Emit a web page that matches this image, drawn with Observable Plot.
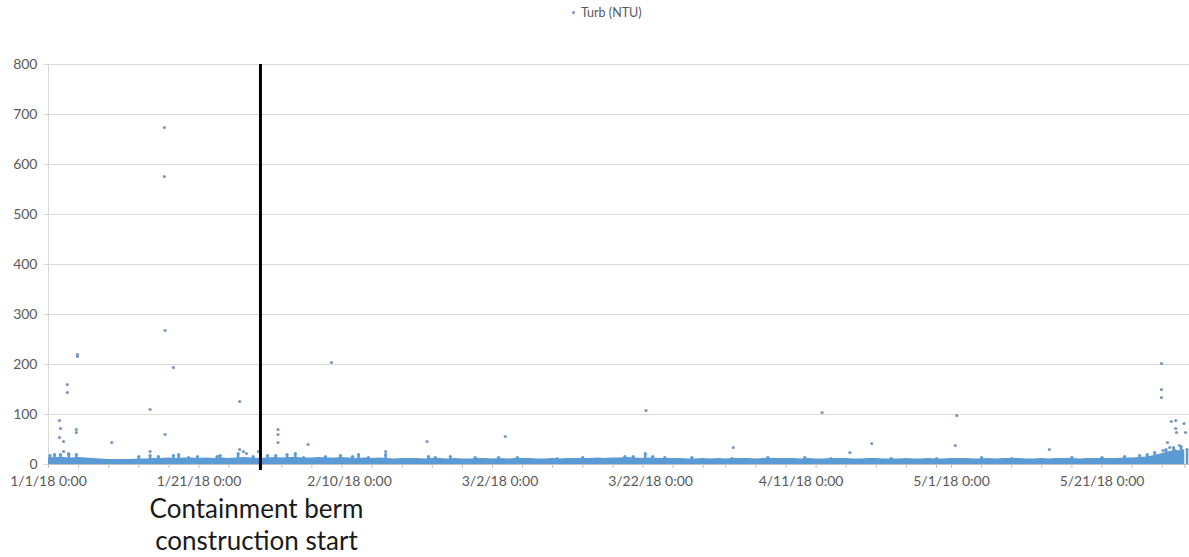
<!DOCTYPE html>
<html><head><meta charset="utf-8">
<script src="https://cdn.jsdelivr.net/npm/d3@7"></script>
<script src="https://cdn.jsdelivr.net/npm/@observablehq/plot@0.6"></script>
<style>
body{margin:0;background:#fff;font-family:Lato,"DejaVu Sans",sans-serif;}
#wrap{position:relative;width:1189px;height:557px;overflow:hidden;}
#legend{height:30px;position:relative;}
#legend .item{position:absolute;left:572px;top:5px;font-size:12.5px;color:#595959;display:flex;align-items:center;gap:6px;}
#legend .dot{width:3px;height:3px;border-radius:50%;background:#7896c0;display:inline-block;}
</style>
</head><body>
<div id="wrap">
<div id="legend"><div class="item"><span class="dot"></span><span>Turb (NTU)</span></div></div>
<div id="chart"></div>
</div>
<script>
// Day offsets from 1/1/18 0:00
const bandDay = d3.range(152);
// typical daily level of the dense band of readings (NTU)
const bandNTU = [
13,14,14,13,14,13,12,11,10,10,
10,10,11,11,12,12,13,12,13,13,
12,13,12,13,12,13,14,13,12,13,
14,13,14,14,13,13,14,13,13,14,
13,12,13,12,13,12,11,12,12,12,
11,12,12,11,12,11,11,12,12,11,
12,11,12,12,12,11,11,12,11,12,
12,12,12,13,12,13,13,14,13,12,
13,12,12,12,12,11,11,12,11,12,
11,12,12,12,11,12,12,12,12,12,
11,12,11,11,12,12,12,11,11,12,
12,11,11,11,12,11,11,12,11,11,
12,12,12,11,11,12,11,12,12,12,
11,11,12,11,12,12,12,11,12,12,
12,12,12,13,13,14,15,18,22,26,28,26
];
// small bumps just above the band
const bumpDay = [0.2,0.8,1.6,2.7,3.7,12,13.5,14.6,16.6,17.3,18.6,19.8,22.4,22.8,25.2,27.2,29.1,30.2,31.7,32.8,33.9,36.8,38.8,40.4,41.2,42.5,44.8,
50.5,51.4,53.4,56.7,59.8,62.3,67.6,71,76.6,77.7,79.3,80.3,81.9,85.5,90.8,95.6,100.5,104,112,118,124,128,136,140,143,145,146,147,148.5,149.5,150.5,151.3];
const bumpNTU = [18,20,20,20,20,16,18,16,18,20,14,16,16,18,22,16,18,18,20,22,14,16,18,16,20,14,20,
16,14,16,14,14,14,12,14,16,16,22,16,14,14,12,14,14,12,12,12,14,12,14,14,16,18,20,24,30,34,36,30];
// scattered readings well above the band
const outDay = [1.46,1.6,1.46,2.0,2.0,2.66,2.5,2.5,3.85,3.85,3.7,3.7,8.4,13.5,13.5,15.5,15.4,15.4,15.5,16.6,25.4,25.4,25.9,26.3,27.9,30.5,30.5,30.5,34.5,37.6,44.8,50.3,60.7,79.4,91,102.8,106.5,109.4,120.5,120.7,133,
147.9,147.9,147.9,148.1,148.7,149.0,149.2,149.7,149.8,149.8,149.9,150.3,150.7,150.9,151.1];
const outNTU = [88,72,54,46,26,22,160,144,220,216,70,64,44,110,26,60,674,576,268,194,126,30,26,22,26,70,60,44,40,204,26,46,56,108,34,104,24,42,38,98,30,
202,150,134,28,44,34,86,28,88,72,64,38,28,82,64];
const bermDate = new Date(Date.UTC(2018,0,29,4));
const bermLabel = "Containment berm\nconstruction start";
const xTickDays = [0,20,40,60,80,100,120,140];
const yTicks = [0,100,200,300,400,500,600,700,800];

const START = Date.UTC(2018,0,1);
const toDate = d => new Date(START + d*86400000);
const band = bandDay.map((d,i)=>({date:toDate(d), ntu:bandNTU[i]}));
const bumps = bumpDay.map((d,i)=>({date:toDate(d), ntu:bumpNTU[i]}));
const out = outDay.map((d,i)=>({date:toDate(d), ntu:outNTU[i]}));
const xDomain = [new Date(START), new Date(Date.UTC(2018,5,1,15))];
const majorTicks = xTickDays.map(toDate);
const minorTicks = d3.utcDay.every(4).range(xDomain[0], xDomain[1]);
const fmt = d => `${d.getUTCMonth()+1}/${d.getUTCDate()}/18 0:00`;

const plot = Plot.plot({
  width:1189, height:527,
  marginTop:34, marginBottom:93, marginLeft:48, marginRight:0,
  style:{fontFamily:"Lato, sans-serif", fontSize:"14px", color:"#595959", background:"white", overflow:"visible"},
  x:{type:"utc", domain:xDomain},
  y:{domain:[0,800]},
  marks:[
    Plot.gridY(yTicks,{stroke:"#d9d9d9", strokeOpacity:1}),
    Plot.axisY({ticks:yTicks, tickSize:5, tickPadding:6, stroke:"#d9d9d9", label:null}),
    Plot.ruleX([xDomain[0]],{stroke:"#d9d9d9"}),
    Plot.ruleY([0],{stroke:"#bfbfbf"}),
    Plot.axisX({ticks:minorTicks, tickSize:4, tickFormat:()=>"", stroke:"#bfbfbf", label:null}),
    Plot.axisX({ticks:majorTicks, tickSize:0, tickPadding:12, tickFormat:fmt, label:null}),
    Plot.areaY(band,{x:"date", y:"ntu", fill:"#5b9bd5"}),
    Plot.ruleX(bumps,{x:"date", y1:0, y2:"ntu", stroke:"#5b9bd5", strokeWidth:2.5}),
    Plot.dot(bumps,{x:"date", y:"ntu", r:1.6, fill:"#5b9bd5", stroke:null}),
    Plot.dot(out,{x:"date", y:"ntu", r:1.6, fill:"#7896c0", stroke:null}),
    Plot.ruleX([bermDate],{y1:800, y2:-12, stroke:"#000", strokeWidth:3}),
    Plot.text([bermLabel],{x:()=>bermDate, y:()=>0, text:d=>d, dy:31, dx:-4, lineAnchor:"top", lineHeight:1.22, fontSize:26, fill:"#1a1a1a", fontFamily:"Lato, sans-serif"})
  ]
});
document.getElementById("chart").appendChild(plot);
</script>
</body></html>
